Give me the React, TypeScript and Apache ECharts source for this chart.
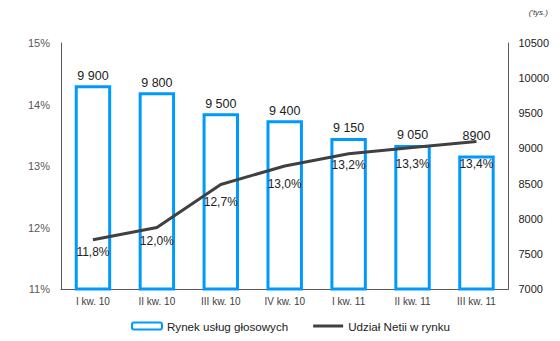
import React, { useEffect, useRef } from "react";
import * as echarts from "echarts";

const categories = ["I kw. 10", "II kw. 10", "III kw. 10", "IV kw. 10", "I kw. 11", "II kw. 11", "III kw. 11"];
const marketValues = [9900, 9800, 9500, 9400, 9150, 9050, 8900];
const marketLabels = ["9 900", "9 800", "9 500", "9 400", "9 150", "9 050", "8900"];
const shareValues = [11.8, 12.0, 12.7, 13.0, 13.2, 13.3, 13.4];
const shareLabels = ["11,8%", "12,0%", "12,7%", "13,0%", "13,2%", "13,3%", "13,4%"];
const shareLabelDist = [6, 7, 11, 12, 5, 10, 17];
const barLabelDist = [3, 3, 3, 3, 3, 3, 13];

export default function App() {
  const ref = useRef<HTMLDivElement>(null);
  useEffect(() => {
    if (!ref.current) return;
    const chart = echarts.init(ref.current, undefined, { renderer: "svg" });
    const font = "'Liberation Sans', Arial, sans-serif";
    chart.setOption({
      animation: false,
      textStyle: { fontFamily: font },
      grid: { left: 53, right: 40, top: 35, bottom: 44 },
      legend: {
        left: 118,
        top: 307,
        itemWidth: 30,
        itemHeight: 7,
        itemGap: 25,
        textStyle: { fontSize: 11.6, color: "#222", fontFamily: font },
        data: [
          { name: "Rynek usług głosowych" },
          { name: "Udział Netii w rynku", icon: "path://M0,0h30v3H0z", itemStyle: { color: "#404040" } },
        ],
      },
      graphic: [
        {
          type: "text",
          right: 4,
          top: 0,
          style: { text: "('tys.)", fontSize: 8, fontStyle: "italic", fill: "#333", fontFamily: font },
        },
      ],
      xAxis: {
        type: "category",
        data: categories,
        axisTick: { show: false },
        axisLine: { lineStyle: { color: "#595959", width: 1 } },
        axisLabel: { fontSize: 10, color: "#404040", margin: 7 },
      },
      yAxis: [
        {
          type: "value",
          min: 11,
          max: 15,
          interval: 1,
          splitLine: { show: false },
          axisLine: { show: true, lineStyle: { color: "#595959", width: 1 } },
          axisTick: { show: false },
          axisLabel: { formatter: "{value}%", fontSize: 11, color: "#595959", margin: 11 },
        },
        {
          type: "value",
          min: 7000,
          max: 10500,
          interval: 500,
          splitLine: { show: false },
          axisLine: { show: true, lineStyle: { color: "#595959", width: 1 } },
          axisTick: { show: false },
          axisLabel: { formatter: (v: number) => String(v), fontSize: 11, color: "#222", margin: 10 },
        },
      ],
      series: [
        {
          name: "Rynek usług głosowych",
          type: "bar",
          yAxisIndex: 1,
          barWidth: "57%",
          itemStyle: { color: "#ffffff", borderColor: "#0099ff", borderWidth: 3 },
          data: marketValues.map((v, i) => ({
            value: v,
            label: {
              show: true,
              position: "top",
              distance: barLabelDist[i],
              formatter: marketLabels[i],
              fontSize: 12.5,
              color: "#222",
            },
          })),
        },
        {
          name: "Udział Netii w rynku",
          type: "line",
          yAxisIndex: 0,
          symbol: "circle",
          symbolSize: 0.1,
          showSymbol: true,
          lineStyle: { color: "#404040", width: 3 },
          itemStyle: { color: "#404040" },
          data: shareValues.map((v, i) => ({
            value: v,
            label: {
              show: true,
              position: "bottom",
              distance: shareLabelDist[i],
              formatter: shareLabels[i],
              fontSize: 12,
              color: "#222",
            },
          })),
        },
      ],
    });
    return () => chart.dispose();
  }, []);
  return <div ref={ref} style={{ width: 544, height: 325 }} />;
}
